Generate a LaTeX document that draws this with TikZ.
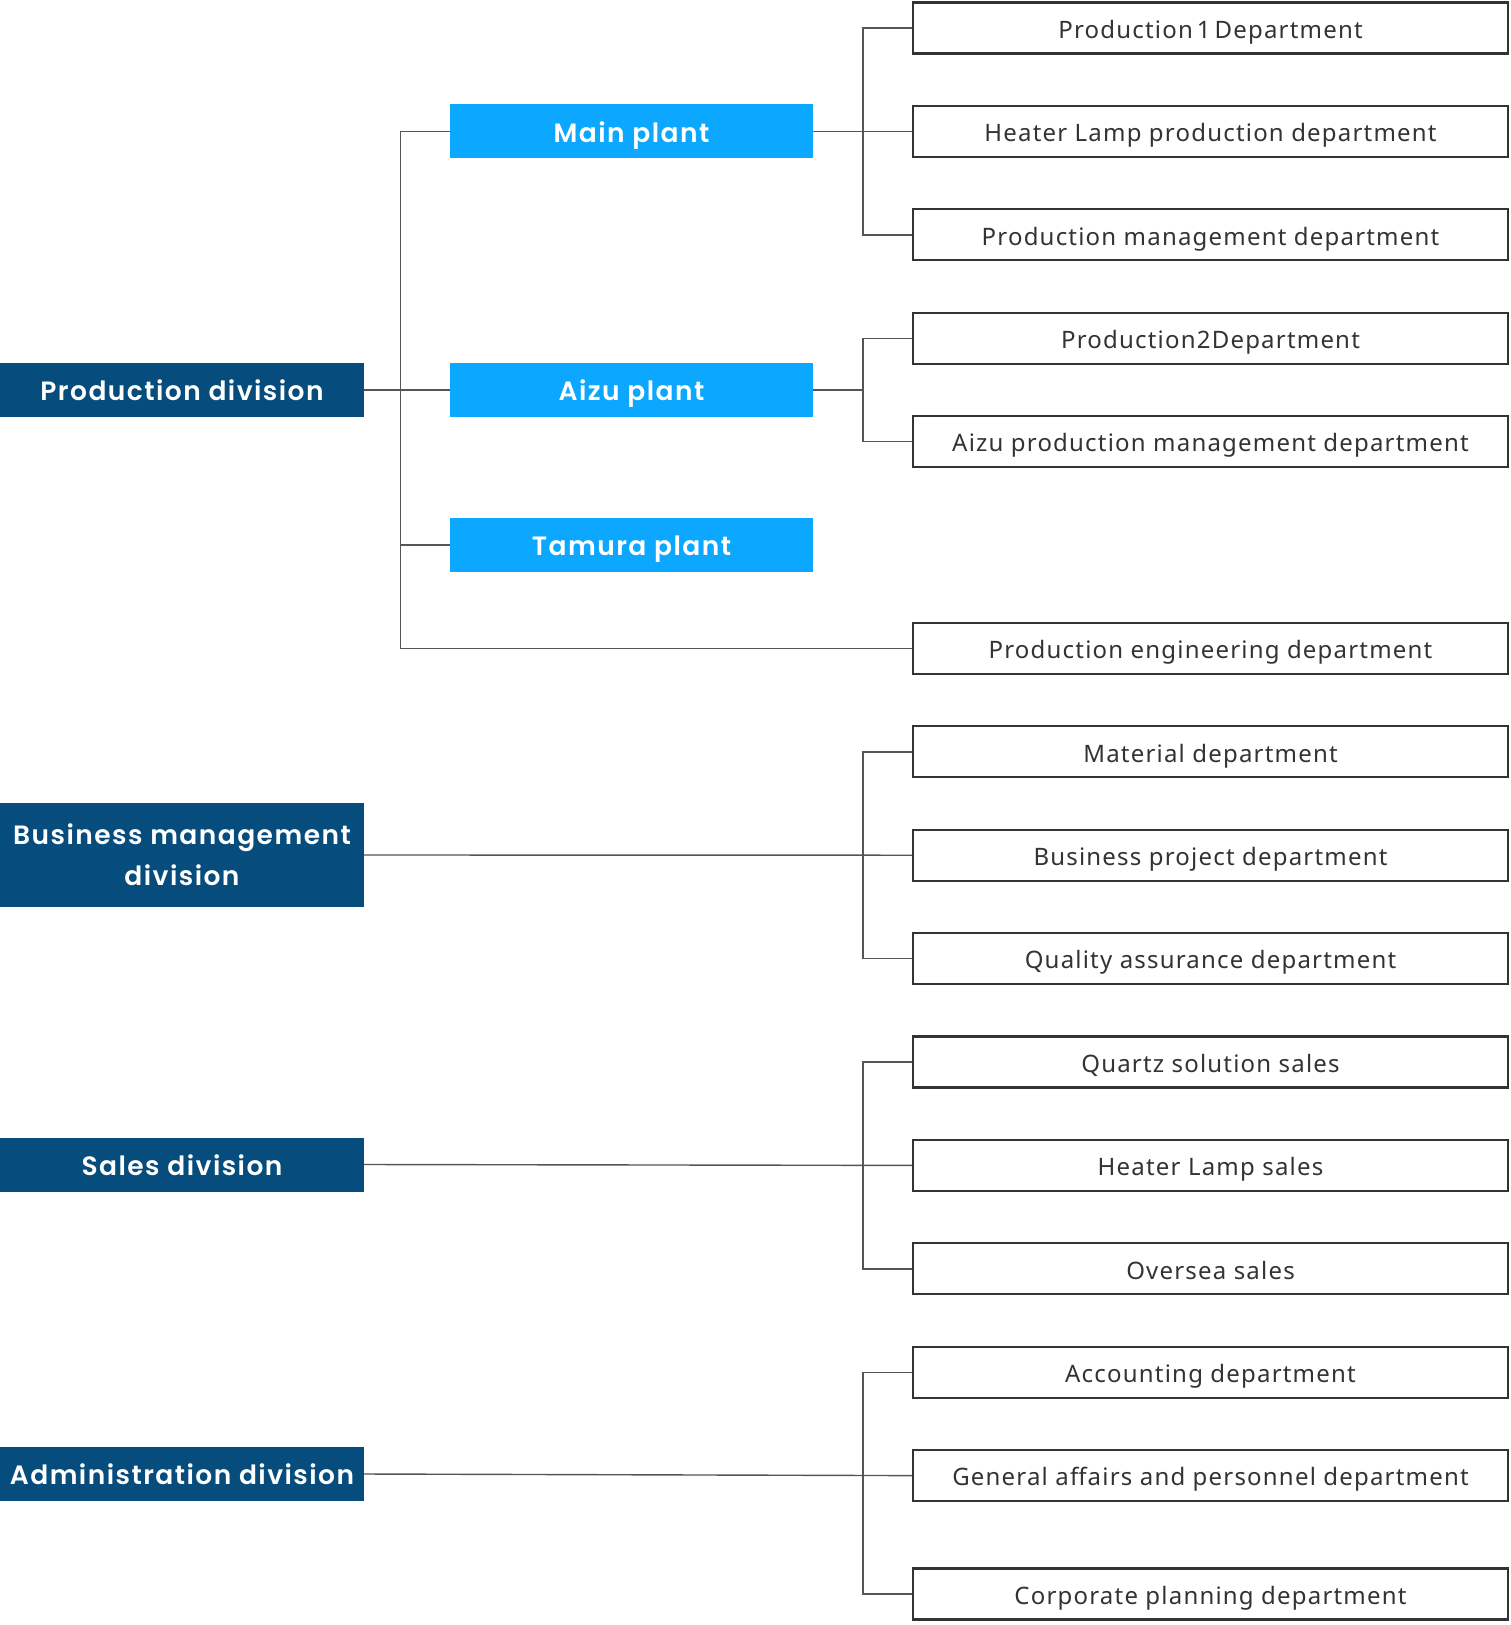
\documentclass[tikz,border=0pt]{standalone}
\usepackage{fontspec}
\setmainfont{Noto Sans}[LetterSpace=5]
\newfontfamily\boldfam{Poppins SemiBold}[LetterSpace=5.5]
\definecolor{darkblue}{HTML}{064C7C}
\definecolor{lightblue}{HTML}{0CA8FF}
\definecolor{linegray}{HTML}{555555}
\definecolor{boxgray}{HTML}{333333}
\begin{document}
\begin{tikzpicture}[x=1pt,y=-1pt,
  division/.style={fill=darkblue, text=white, font=\boldfam\fontsize{26.5}{41.4}\selectfont, minimum width=364pt, minimum height=54pt, inner sep=0pt, align=center},
  onerow/.style={text height=21.5pt, text depth=0pt},
  plant/.style={fill=lightblue, text=white, font=\boldfam\fontsize{26.5}{30}\selectfont, minimum width=363pt, minimum height=54pt, inner sep=0pt, onerow},
  dept/.style={draw=boxgray, line width=2.2pt, fill=white, text=boxgray, font=\fontsize{24}{28}\selectfont, minimum width=595pt, minimum height=51pt, inner sep=0pt, text height=20.5pt, text depth=0pt},
  conn/.style={draw=linegray, line width=1.4pt}]
\useasboundingbox[fill=white] (0,0) rectangle (1511,1625);
% divisions
\node[division, onerow] (pd) at (182,390) {Production division};
\node[division, minimum height=104pt] (bm) at (182,855) {Business management\\division};
\node[division, onerow] (sd) at (182,1164.5) {Sales division};
\node[division, onerow] (ad) at (182,1474) {Administration division};
% plants
\node[plant] (mp) at (631.5,131.4) {Main plant};
\node[plant] (ap) at (631.5,390) {Aizu plant};
\node[plant] (tp) at (631.5,545) {Tamura plant};
% departments
\node[dept] (d1) at (1210.5,28) {Production\,1\,Department};
\node[dept] (d2) at (1210.5,131.4) {Heater Lamp production department};
\node[dept] (d3) at (1210.5,234.8) {Production management department};
\node[dept] (d4) at (1210.5,338.2) {Production2Department};
\node[dept] (d5) at (1210.5,441.6) {Aizu production management department};
\node[dept] (d6) at (1210.5,648.4) {Production engineering department};
\node[dept] (d7) at (1210.5,751.8) {Material department};
\node[dept] (d8) at (1210.5,855.2) {Business project department};
\node[dept] (d9) at (1210.5,958.6) {Quality assurance department};
\node[dept] (d10) at (1210.5,1062) {Quartz solution sales};
\node[dept] (d11) at (1210.5,1165.4) {Heater Lamp sales};
\node[dept] (d12) at (1210.5,1268.8) {Oversea sales};
\node[dept] (d13) at (1210.5,1372.2) {Accounting department};
\node[dept] (d14) at (1210.5,1475.6) {General affairs and personnel department};
\node[dept] (d15) at (1210.5,1594) {Corporate planning department};
% trunk coordinates
\coordinate (v) at (400.5,0);
\coordinate (w) at (863,0);
% production division tree
\draw[conn] (mp.west) -- (mp.west -| v) |- (d6.west);
\draw[conn] (pd.east) -- (ap.west);
\draw[conn] (tp.west) -- (tp.west -| v);
% main plant
\draw[conn] (mp.east) -- (d2.west);
\draw[conn] (d1.west) -- (d1.west -| w) |- (d3.west);
% aizu plant
\draw[conn] (ap.east) -- (ap.east -| w);
\draw[conn] (d4.west) -- (d4.west -| w) |- (d5.west);
% business management
\draw[conn] (bm.east) -- (d8.west);
\draw[conn] (d7.west) -- (d7.west -| w) |- (d9.west);
% sales
\draw[conn] (sd.east) -- (d11.west);
\draw[conn] (d10.west) -- (d10.west -| w) |- (d12.west);
% administration
\draw[conn] (ad.east) -- (d14.west);
\draw[conn] (d13.west) -- (d13.west -| w) |- (d15.west);
\end{tikzpicture}
\end{document}
